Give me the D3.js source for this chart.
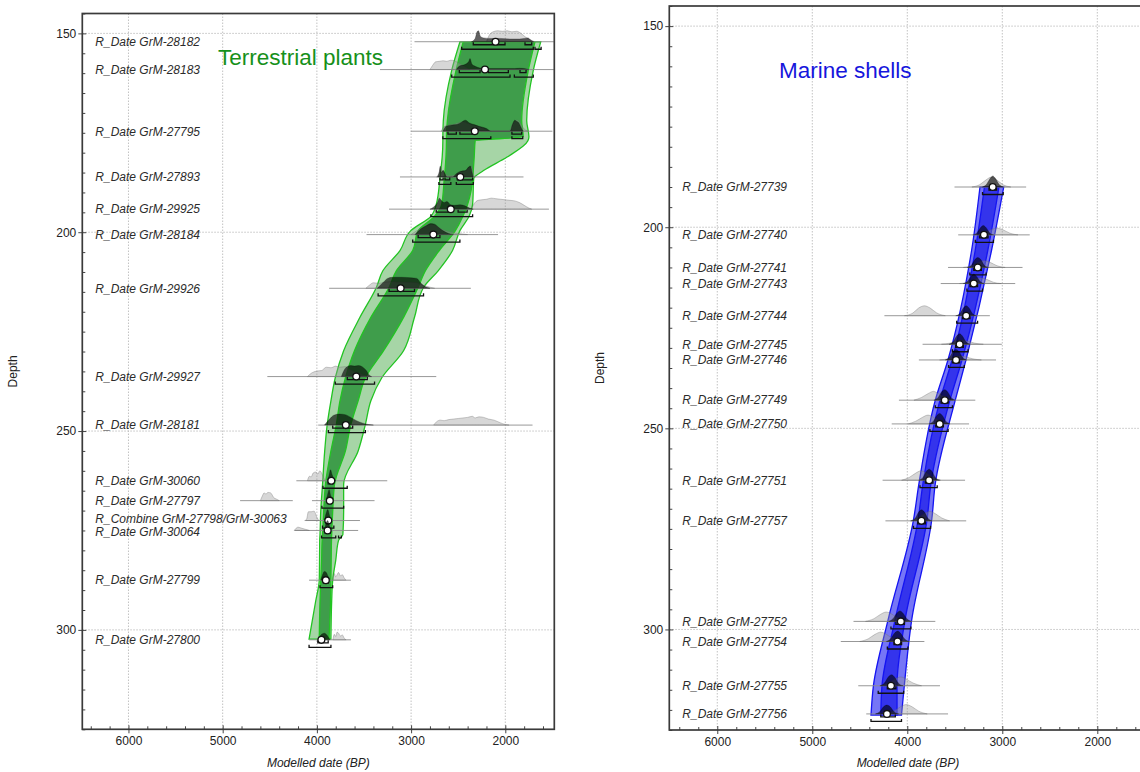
<!DOCTYPE html>
<html>
<head>
<meta charset="utf-8">
<script src="https://cdn.jsdelivr.net/npm/d3@7"></script>
<style>
  body { margin: 0; background: #fff; }
  text { font-family: "Liberation Sans", Arial, sans-serif; }
</style>
</head>
<body>
<svg id="chart" width="1140" height="772"></svg>
<script>
// ---------- Terrestrial plants (left) ----------
const terrNames = ["R_Date GrM-28182", "R_Date GrM-28183", "R_Date GrM-27795", "R_Date GrM-27893",
  "R_Date GrM-29925", "R_Date GrM-28184", "R_Date GrM-29926", "R_Date GrM-29927", "R_Date GrM-28181",
  "R_Date GrM-30060", "R_Date GrM-27797", "R_Combine GrM-27798/GrM-30063", "R_Date GrM-30064",
  "R_Date GrM-27799", "R_Date GrM-27800"];
const terrDepth = [152.1, 159.1, 174.6, 186.1, 194.2, 200.6, 214.1, 236.3, 248.5, 262.5, 267.5, 272.5, 275, 287.5, 302.5];
const terrMedian = [2104, 2216, 2324, 2478, 2579, 2764, 3111, 3582, 3693, 3847, 3863, 3879, 3886, 3905, 3952];
const terrSpan = [
  [[2964, 1485]], [[3330, 1485]], [[3003, 1500]], [[3118, 1807]], [[3234, 1537]], [[3473, 2077]],
  [[3870, 2366]], [[4526, 2733]], [[3986, 1711]], [[4218, 3253]], [[4815, 4256], [4052, 3388]],
  [[4121, 3543]], [[4237, 3562]], [[4083, 3639]], [[4083, 3639]]
];
// relative heights of the unmodelled (prior) distributions
const terrPrior = [
  [[2200,0],[2170,0.6],[2130,0.9],[2080,1.0],[2030,0.95],[1980,1.0],[1930,0.9],[1880,0.95],[1840,0.8],[1790,0.45],[1740,0.2],[1690,0]],
  [[2800,0],[2770,0.4],[2740,0.7],[2700,0.75],[2660,0.8],[2620,0.75],[2580,0.85],[2540,0.8],[2500,0.6],[2460,0.4],[2420,0.2],[2380,0]],
  [[2680,0],[2650,0.4],[2600,0.55],[2550,0.6],[2500,0.75],[2450,0.85],[2400,0.7],[2350,0.55],[2300,0.45],[2250,0.3],[2150,0],[1960,0],[1930,0.5],[1900,0.9],[1870,1.0],[1840,0.7],[1800,0.2],[1760,0]],
  [[2730,0],[2700,0.45],[2690,0.9],[2670,0.5],[2640,0.3],[2600,0.1],[2540,0.15],[2480,0.45],[2420,0.55],[2380,0.85],[2360,0.9],[2340,0.2],[2320,0]],
  [[2360,0],[2330,0.5],[2290,0.8],[2250,0.85],[2200,0.9],[2150,1.0],[2100,0.95],[2050,0.9],[2000,0.85],[1950,0.8],[1900,0.75],[1850,0.6],[1800,0.35],[1750,0.1],[1720,0]],
  [[3000,0],[2950,0.3],[2880,0.6],[2820,0.85],[2780,0.9],[2740,0.8],[2680,0.5],[2620,0.3],[2540,0.15],[2450,0.05],[2400,0]],
  [[3480,0],[3440,0.3],[3400,0.5],[3340,0.45],[3280,0.55],[3220,0.6],[3150,0.55],[3050,0.55],[2950,0.5],[2880,0.3],[2800,0.1],[2750,0]],
  [[4100,0],[4060,0.3],[4000,0.5],[3950,0.55],[3900,0.85],[3850,0.8],[3800,0.95],[3760,0.85],[3700,0.9],[3660,0.7],[3620,0.5],[3550,0.3],[3480,0.1],[3420,0]],
  [[2760,0],[2730,0.3],[2690,0.45],[2650,0.4],[2600,0.5],[2550,0.55],[2500,0.6],[2450,0.65],[2400,0.7],[2350,0.8],[2320,0.65],[2280,0.75],[2230,0.7],[2180,0.55],[2120,0.45],[2050,0.2],[2000,0.05],[1960,0]],
  [[4100,0],[4080,0.4],[4060,0.35],[4040,0.7],[4010,0.8],[3990,0.6],[3970,0.9],[3950,0.7],[3930,0.3],[3910,0]],
  [[4600,0],[4580,0.4],[4560,0.7],[4540,0.6],[4520,0.75],[4490,0.7],[4460,0.3],[4420,0.1],[4400,0]],
  [[4130,0],[4110,0.1],[4090,0.8],[4060,0.8],[4030,0.85],[4000,0.3],[3980,0]],
  [[4240,0],[4200,0.3],[4160,0.2],[4120,0.1],[4080,0]],
  [[3830,0],[3815,0.6],[3800,0.3],[3785,0.5],[3770,0.7],[3750,0.4],[3730,0.5],[3710,0.2],[3690,0]],
  [[3830,0],[3815,0.5],[3800,0.3],[3785,0.7],[3770,0.6],[3750,0.35],[3730,0.45],[3710,0.15],[3690,0]]
];
// relative heights of the modelled (posterior) distributions
const terrPost = [
  [[2360,0],[2320,0.3],[2300,0.9],[2285,1.0],[2265,0.5],[2230,0.35],[2150,0.3],[2050,0.3],[1950,0.25],[1850,0.25],[1800,0.3],[1760,0.35],[1730,0.15],[1700,0]],
  [[2520,0],[2490,0.3],[2430,0.45],[2390,0.7],[2375,1.0],[2355,0.5],[2320,0.3],[2270,0.15],[2200,0.1],[1900,0.1],[1850,0.12],[1800,0.1],[1750,0]],
  [[2660,0],[2630,0.45],[2580,0.55],[2520,0.6],[2470,0.8],[2424,1.0],[2380,0.75],[2330,0.6],[2280,0.45],[2200,0.25],[2150,0],[1950,0],[1925,0.6],[1900,1.0],[1880,0.9],[1860,0.8],[1830,0.3],[1810,0]],
  [[2720,0],[2700,0.5],[2690,1.0],[2680,0.4],[2660,0.6],[2640,0.3],[2620,0],[2560,0],[2520,0.3],[2480,0.5],[2420,0.6],[2390,0.9],[2370,1.0],[2355,0.5],[2340,0]],
  [[2800,0],[2760,0.2],[2720,0.6],[2700,1.0],[2680,0.8],[2650,0.6],[2620,0.7],[2580,0.4],[2540,0.35],[2480,0.4],[2430,0.3],[2380,0.1],[2340,0]],
  [[2960,0],[2900,0.5],[2840,0.8],[2790,1.0],[2750,0.95],[2700,0.6],[2650,0.3],[2600,0.1],[2550,0]],
  [[3360,0],[3300,0.5],[3250,0.9],[3200,1.0],[3100,1.0],[3000,0.95],[2940,0.9],[2900,0.5],[2860,0.2],[2800,0]],
  [[3740,0],[3710,0.6],[3680,0.9],[3640,1.0],[3600,0.95],[3560,1.0],[3520,0.9],[3480,0.6],[3440,0.1],[3420,0]],
  [[3920,0],[3870,0.5],[3820,0.9],[3760,1.0],[3700,0.95],[3640,0.7],[3580,0.4],[3520,0.2],[3450,0.05],[3400,0]],
  [[3890,0],[3870,0.5],[3855,1.0],[3840,0.6],[3820,0.2],[3800,0]],
  [[3900,0],[3885,0.6],[3870,1.0],[3855,0.5],[3835,0]],
  [[3920,0],[3900,0.7],[3885,1.0],[3870,0.6],[3850,0]],
  [[3920,0],[3900,0.7],[3885,0.9],[3870,0.5],[3850,0]],
  [[3960,0],[3940,0.5],[3920,0.8],[3900,0.7],[3880,0.3],[3860,0]],
  [[3990,0],[3970,0.3],[3950,0.5],[3920,0.6],[3890,0.4],[3860,0]]
];
const terrRange68 = [
  [[2340,2003],[1791,1720]], [[2488,2268],[2180,1968],[1844,1780]], [[2609,2520],[2482,2347],[1930,1826]],
  [[2694,2660],[2640,2590],[2509,2347]], [[2733,2578],[2501,2405]], [[2925,2694]], [[3234,2964]],
  [[3677,3465]], [[3832,3620]], [[3880,3830]], [[3880,3850]], [[3900,3870]], [[3910,3860]],
  [[3930,3880]], [[3990,3880]]
];
const terrRange95 = [
  [[2463,1703],[1685,1620]], [[2569,1950],[1904,1703]], [[2663,2154],[1930,1815]], [[2705,2578],[2520,2340]],
  [[2790,2347]], [[2983,2482]], [[3350,2868]], [[3805,3388]], [[3878,3485]], [[3936,3678]],
  [[3947,3716]], [[3940,3820]], [[3950,3800],[3770,3740]], [[3967,3832]], [[4083,3851]]
];
// age-depth envelope (95% outer, 68% inner)
const terrEnvDepth = [152.1, 159.3, 171.9, 176.0, 177.0, 181.1, 184.5, 186.5, 193, 196, 199.6, 204.6, 209.7, 213.9,
  221.4, 229.8, 236.6, 242.4, 248.3, 255, 263.4, 270.2, 276, 277.5, 282.5, 287.5, 292.8, 302.3];
const terrOuterOld = [2481, 2569, 2658, 2663, 2663, 2670, 2685, 2694, 2733, 2790, 3003, 3118, 3300, 3369,
  3543, 3716, 3805, 3851, 3890, 3917, 3940, 3959, 3967, 3970, 3972, 3975, 4013, 4083];
const terrInnerOld = [2446, 2523, 2615, 2625, 2625, 2630, 2640, 2648, 2675, 2752, 2925, 2983, 3157, 3234,
  3427, 3601, 3697, 3755, 3793, 3851, 3909, 3928, 3940, 3945, 3950, 3959, 3967, 3975];
const terrInnerYoung = [1685, 1756, 1826, 1810, 2320, 2330, 2340, 2345, 2400, 2450, 2530, 2700, 2848, 2926,
  3080, 3292, 3485, 3562, 3639, 3697, 3813, 3832, 3843, 3845, 3848, 3851, 3855, 3871];
const terrOuterYoung = [1624, 1703, 1773, 1749, 1760, 1981, 2231, 2335, 2347, 2385, 2482, 2560, 2713, 2868,
  2964, 3080, 3311, 3427, 3485, 3562, 3716, 3716, 3724, 3770, 3800, 3832, 3843, 3851];

// ---------- Marine shells (right) ----------
const marNames = ["R_Date GrM-27739", "R_Date GrM-27740", "R_Date GrM-27741", "R_Date GrM-27743",
  "R_Date GrM-27744", "R_Date GrM-27745", "R_Date GrM-27746", "R_Date GrM-27749", "R_Date GrM-27750",
  "R_Date GrM-27751", "R_Date GrM-27757", "R_Date GrM-27752", "R_Date GrM-27754", "R_Date GrM-27755",
  "R_Date GrM-27756"];
const marDepth = [190, 201.9, 210, 214, 222, 229.1, 233, 243, 248.9, 262.9, 273, 298, 303, 314, 321];
const marMedian = [3101, 3193, 3258, 3300, 3380, 3449, 3487, 3605, 3659, 3770, 3851, 4068, 4103, 4172, 4214];
const marSpan = [
  [[3503, 2749]], [[3464, 2711]], [[3571, 2787]], [[3648, 2864]], [[4241, 3131]], [[3839, 3005]],
  [[3878, 3066]], [[4088, 3284]], [[4164, 3350]], [[4260, 3392]], [[4230, 3380]], [[4566, 3705]],
  [[4700, 3820]], [[4516, 3656]], [[4432, 3571]]
];
const marPrior = [
  [[3320,0],[3240,0.2],[3170,0.65],[3115,0.9],[3060,0.65],[2990,0.2],[2910,0]],
  [[3275,0],[3190,0.15],[3120,0.45],[3055,0.6],[2990,0.45],[2920,0.15],[2835,0]],
  [[3410,0],[3320,0.15],[3250,0.45],[3190,0.6],[3125,0.45],[3055,0.15],[2970,0]],
  [[3450,0],[3360,0.12],[3290,0.38],[3230,0.5],[3165,0.38],[3095,0.12],[3010,0]],
  [[4030,0],[3940,0.25],[3880,0.7],[3820,0.9],[3760,0.7],[3690,0.25],[3600,0]],
  [[3640,0],[3550,0.1],[3480,0.27],[3420,0.35],[3360,0.27],[3290,0.1],[3200,0]],
  [[3660,0],[3570,0.1],[3500,0.27],[3440,0.35],[3380,0.27],[3310,0.1],[3220,0]],
  [[3930,0],[3850,0.25],[3780,0.6],[3725,0.8],[3670,0.6],[3600,0.25],[3520,0]],
  [[3990,0],[3910,0.25],[3840,0.6],[3782,0.8],[3725,0.6],[3655,0.25],[3575,0]],
  [[4060,0],[3980,0.25],[3910,0.65],[3858,0.85],[3800,0.65],[3730,0.25],[3650,0]],
  [[3970,0],[3890,0.25],[3820,0.65],[3763,0.85],[3705,0.65],[3635,0.25],[3555,0]],
  [[4440,0],[4350,0.25],[4280,0.65],[4222,0.85],[4160,0.65],[4090,0.25],[4000,0]],
  [[4500,0],[4410,0.25],[4340,0.65],[4279,0.85],[4220,0.65],[4150,0.25],[4060,0]],
  [[4290,0],[4200,0.25],[4130,0.6],[4069,0.8],[4010,0.6],[3940,0.25],[3850,0]],
  [[4230,0],[4140,0.25],[4070,0.65],[4012,0.85],[3950,0.65],[3880,0.25],[3790,0]]
];
const marPost = [
  [[3210,0],[3165,0.25],[3130,0.75],[3100,1.0],[3070,0.75],[3035,0.25],[2990,0]],
  [[3310,0],[3265,0.2],[3230,0.65],[3200,0.85],[3170,0.65],[3135,0.2],[3090,0]],
  [[3370,0],[3325,0.2],[3290,0.7],[3258,0.9],[3225,0.7],[3190,0.2],[3145,0]],
  [[3410,0],[3365,0.2],[3330,0.65],[3300,0.85],[3270,0.65],[3235,0.2],[3190,0]],
  [[3490,0],[3445,0.2],[3410,0.7],[3380,0.9],[3350,0.7],[3315,0.2],[3270,0]],
  [[3560,0],[3515,0.25],[3480,0.75],[3449,0.95],[3420,0.75],[3385,0.25],[3340,0]],
  [[3600,0],[3555,0.25],[3520,0.75],[3487,0.95],[3455,0.75],[3420,0.25],[3375,0]],
  [[3720,0],[3675,0.25],[3640,0.75],[3606,0.95],[3575,0.75],[3540,0.25],[3495,0]],
  [[3770,0],[3725,0.25],[3690,0.75],[3659,0.95],[3630,0.75],[3595,0.25],[3550,0]],
  [[3880,0],[3835,0.25],[3800,0.8],[3770,1.0],[3740,0.8],[3705,0.25],[3660,0]],
  [[3960,0],[3915,0.25],[3880,0.8],[3851,1.0],[3820,0.8],[3785,0.25],[3740,0]],
  [[4195,0],[4150,0.25],[4110,0.75],[4077,0.95],[4045,0.75],[4005,0.25],[3955,0]],
  [[4220,0],[4175,0.25],[4135,0.75],[4100,0.95],[4070,0.75],[4030,0.25],[3980,0]],
  [[4285,0],[4240,0.25],[4200,0.8],[4165,1.0],[4135,0.8],[4095,0.25],[4045,0]],
  [[4335,0],[4290,0.2],[4250,0.65],[4214,0.8],[4180,0.65],[4140,0.2],[4090,0]]
];
const marRange68 = [
  [[3140,3060]], [[3240,3150]], [[3300,3220]], [[3340,3260]], [[3420,3340]], [[3490,3410]], [[3525,3450]],
  [[3645,3570]], [[3700,3620]], [[3810,3730]], [[3890,3810]], [[4120,4030]], [[4140,4060]], [[4210,4120]],
  [[4279,4126]]
];
const marRange95 = [
  [[3208,2990]], [[3284,3093]], [[3342,3170]], [[3372,3208]], [[3480,3260]], [[3525,3360]], [[3565,3400]],
  [[3705,3525]], [[3762,3570]], [[3866,3685]], [[3935,3755]], [[4172,3962]], [[4210,3993]], [[4306,4038]],
  [[4382,4061]]
];
const marEnvDepth = [190, 205.6, 233, 243, 263.7, 272.8, 297.7, 313.9, 321.3];
const marOuterOld = [3235, 3322, 3572, 3705, 3877, 3935, 4203, 4356, 4382];
const marInnerOld = [3188, 3284, 3529, 3656, 3835, 3887, 4129, 4266, 4279];
const marInnerYoung = [3035, 3151, 3424, 3551, 3751, 3793, 4024, 4108, 4108];
const marOuterYoung = [2985, 3112, 3382, 3495, 3705, 3743, 3954, 4031, 4061];

// ---------- axes ----------
const majorDates = [6000, 5000, 4000, 3000, 2000];
const majorDepths = [150, 200, 250, 300];
const depthDomain = [145, 325];

const svg = d3.select("#chart");
const distH = 11;

function drawPanel(o) {
  const x = d3.scaleLinear().domain(o.xDomain).range([o.left, o.right]);
  const y = d3.scaleLinear().domain(depthDomain).range([o.top, o.bottom]);
  const w = o.right - o.left, h = o.bottom - o.top;

  svg.append("clipPath").attr("id", o.id + "clip")
    .append("rect").attr("x", o.left).attr("y", o.top).attr("width", w).attr("height", h);

  const g = svg.append("g");
  const plot = g.append("g").attr("clip-path", `url(#${o.id}clip)`);

  // dotted grid
  plot.selectAll(".vg").data(majorDates).join("line")
    .attr("x1", d => x(d)).attr("x2", d => x(d)).attr("y1", o.top).attr("y2", o.bottom)
    .attr("stroke", "#c2c2c2").attr("stroke-width", 1).attr("stroke-dasharray", "1.5,1.5");
  plot.selectAll(".hg").data(majorDepths).join("line")
    .attr("y1", d => y(d)).attr("y2", d => y(d)).attr("x1", o.left).attr("x2", o.right)
    .attr("stroke", "#c2c2c2").attr("stroke-width", 1).attr("stroke-dasharray", "1.5,1.5");

  // envelope
  const env = o.envDepth.map((d, i) => ({ d, oo: o.outerOld[i], io: o.innerOld[i], iy: o.innerYoung[i], oy: o.outerYoung[i] }));
  const outerArea = d3.area().y(e => y(e.d)).x0(e => x(e.oo)).x1(e => x(e.oy)).curve(d3.curveMonotoneY);
  const innerArea = d3.area().y(e => y(e.d)).x0(e => x(e.io)).x1(e => x(e.iy)).curve(d3.curveMonotoneY);
  plot.append("path").datum(env).attr("d", outerArea)
    .attr("fill", o.outerFill).attr("stroke", o.envStroke).attr("stroke-width", 1.3);
  plot.append("path").datum(env).attr("d", innerArea)
    .attr("fill", o.innerFill).attr("stroke", o.envStroke).attr("stroke-width", 1.3);

  const samples = o.names.map((n, i) => ({
    name: n, base: y(o.depth[i]), median: o.median[i], span: o.span[i],
    prior: o.prior[i], post: o.post[i], r68: o.r68[i], r95: o.r95[i],
    nudge: (o.labelNudge && o.labelNudge[i]) || 0
  }));

  const sg = plot.selectAll(".sample").data(samples).join("g");

  // baseline lines
  sg.each(function (s) {
    d3.select(this).selectAll(".base").data(s.span).join("line")
      .attr("x1", d => x(d[0])).attr("x2", d => x(d[1]))
      .attr("y1", s.base).attr("y2", s.base)
      .attr("stroke", "#8c8c8c").attr("stroke-width", 0.9);
  });

  const dist = base => d3.area().x(p => x(p[0])).y0(base).y1(p => base - p[1] * distH).curve(d3.curveMonotoneX);
  sg.append("path").attr("d", s => dist(s.base)(s.prior))
    .attr("fill", "rgba(150,150,150,0.38)").attr("stroke", "rgba(110,110,110,0.6)").attr("stroke-width", 0.6);
  sg.append("path").attr("d", s => dist(s.base)(s.post))
    .attr("fill", "rgba(0,0,0,0.62)").attr("stroke", "rgba(0,0,0,0.5)").attr("stroke-width", 0.5);

  // range brackets
  function brackets(sel, key, off) {
    sel.each(function (s) {
      const yy = s.base + off;
      d3.select(this).append("g").selectAll("path").data(s[key]).join("path")
        .attr("d", r => `M${x(r[0])},${yy - 2.5}V${yy}H${x(r[1])}V${yy - 2.5}`)
        .attr("fill", "none").attr("stroke", "#111").attr("stroke-width", 1.3);
    });
  }
  brackets(sg, "r68", 3);
  brackets(sg, "r95", 7.5);

  sg.append("circle").attr("cx", s => x(s.median)).attr("cy", s => s.base).attr("r", 3.4)
    .attr("fill", "#fff").attr("stroke", "#111").attr("stroke-width", 1.3);

  // sample labels
  g.selectAll(".lab").data(samples).join("text")
    .attr("x", o.left + 13).attr("y", s => s.base + s.nudge).attr("dy", "0.36em")
    .attr("font-size", 12).attr("font-style", "italic").attr("fill", "#2b2b2b")
    .text(s => s.name);

  // axes
  const minorDates = d3.range(1600, 6500, 200).filter(d => d % 1000 !== 0);
  const minorDepths = d3.range(145, 326, 5).filter(d => d % 50 !== 0);

  const xa = g.append("g").attr("transform", `translate(0,${o.bottom})`)
    .call(d3.axisBottom(x).tickValues(majorDates).tickSize(4).tickPadding(3).tickFormat(d3.format("d")));
  xa.selectAll(".tick line").attr("y1", -4);
  g.append("g").attr("transform", `translate(0,${o.bottom})`)
    .call(d3.axisBottom(x).tickValues(minorDates).tickSize(-3).tickFormat(""));

  const ya = g.append("g").attr("transform", `translate(${o.left},0)`)
    .call(d3.axisLeft(y).tickValues(majorDepths).tickSize(4).tickPadding(2).tickFormat(d3.format("d")));
  ya.selectAll(".tick line").attr("x1", 4);
  g.append("g").attr("transform", `translate(${o.left},0)`)
    .call(d3.axisLeft(y).tickValues(minorDepths).tickSize(-3).tickFormat(""));

  g.selectAll(".domain").remove();
  g.selectAll(".tick line").attr("stroke", "#444");
  g.selectAll(".tick text").attr("font-size", 12).attr("fill", "#222")
    .attr("font-family", "'Liberation Sans', Arial, sans-serif");

  // frame
  g.append("rect").attr("x", o.left).attr("y", o.top).attr("width", w).attr("height", h)
    .attr("fill", "none").attr("stroke", "#3a3a3a").attr("stroke-width", 1.7);

  // axis titles
  g.append("text").attr("transform", `translate(${o.left - 65},${(o.top + o.bottom) / 2}) rotate(-90)`)
    .attr("text-anchor", "middle").attr("font-size", 12).attr("fill", "#222").text("Depth");
  g.append("text").attr("x", (o.left + o.right) / 2).attr("y", 767)
    .attr("text-anchor", "middle").attr("font-size", 12).attr("font-style", "italic").attr("fill", "#222")
    .text("Modelled date (BP)");

  g.append("text").attr("x", o.titleX).attr("y", o.titleY)
    .attr("font-size", 22.5).attr("fill", o.titleColor).text(o.title);
}

drawPanel({
  id: "terr", xDomain: [6490, 1480], left: 82.3, right: 554.3, top: 13.5, bottom: 729.3,
  names: terrNames, depth: terrDepth, median: terrMedian, span: terrSpan,
  prior: terrPrior, post: terrPost, r68: terrRange68, r95: terrRange95,
  envDepth: terrEnvDepth, outerOld: terrOuterOld, innerOld: terrInnerOld,
  innerYoung: terrInnerYoung, outerYoung: terrOuterYoung,
  outerFill: "#a6d5a6", innerFill: "#3f9d4b", envStroke: "#22c422",
  labelNudge: { 11: -2, 12: 1.5 },
  title: "Terrestrial plants", titleX: 218, titleY: 64.5, titleColor: "#16901a"
});

drawPanel({
  id: "mar", xDomain: [6505, 1480], left: 669.3, right: 1146.7, top: 6, bottom: 730,
  names: marNames, depth: marDepth, median: marMedian, span: marSpan,
  prior: marPrior, post: marPost, r68: marRange68, r95: marRange95,
  envDepth: marEnvDepth, outerOld: marOuterOld, innerOld: marInnerOld,
  innerYoung: marInnerYoung, outerYoung: marOuterYoung,
  outerFill: "#7676f6", innerFill: "#3434ec", envStroke: "#1414f2",
  title: "Marine shells", titleX: 779, titleY: 77.5, titleColor: "#1616dc"
});
</script>
</body>
</html>
